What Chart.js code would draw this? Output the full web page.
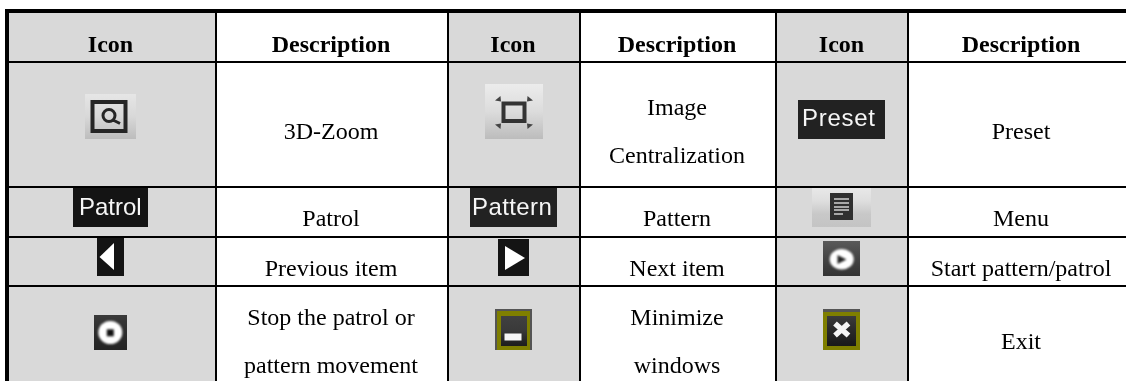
<!DOCTYPE html>
<html>
<head>
<meta charset="utf-8">
<script src="https://cdn.jsdelivr.net/npm/chart.js@4"></script>
<style>
    body{margin:0;background:#fff;}
    canvas{display:block;}
</style>
</head>
<body>
<canvas id="dataChart" width="1126" height="381"></canvas>
<script>
// table rules, in picture pixels
const columnRules = [7,215.5,447.5,580,776,908];
const rowRules = [11,62,187,237,286];
const ruleColumnWidths = [4,2,2,2,2,2];
const ruleRowWidths = [4,2,2,2,2];
const shadedColumns = [[7,215.5],[447.5,580],[776,908]];

const columnCenters = [110.5,331,513,677,841.5,1021];
const headerLabels = ["Icon","Description","Icon","Description","Icon","Description"];
const headerBaseline = 52;

const descriptionColumns = [1,3,5,1,3,5,1,3,5,1,3,5];
const descriptionLines = [
    ["3D-Zoom"],["Image","Centralization"],["Preset"],
    ["Patrol"],["Pattern"],["Menu"],
    ["Previous item"],["Next item"],["Start pattern/patrol"],
    ["Stop the patrol or","pattern movement"],["Minimize","windows"],["Exit"]
];
const descriptionBaselines = [
    [139],[115,163],[139],
    [226],[226],[226],
    [276],[276],[276],
    [325,373],[325,373],[349]
];

const iconNames = ["zoom","center","preset","patrol","pattern","menu","prev","next","start","stop","minimize","exit"];
const iconX = [110.5,514,841.5,110.5,513.5,841.5,110.5,513.5,841.5,110.5,513.5,841.5];
const iconY = [116.5,111.5,119.5,207.5,207.5,207.5,257,257.5,258.5,332.5,329.5,329.5];

function makeIcon(w,h,paint){
    let c = document.createElement("canvas");
    c.width = w;
    c.height = h;
    let ctx = c.getContext("2d");
    paint(ctx,w,h);
    return c;
}

function vGradient(ctx,h,stops){
    let g = ctx.createLinearGradient(0,0,0,h);
    stops.forEach((s,i)=>g.addColorStop(i/(stops.length-1),s));
    return g;
}

function labelIcon(bg,text,size,tx,base,spacing){
    return (ctx,w,h)=>{
        ctx.fillStyle = bg;
        ctx.fillRect(0,0,w,h);
        ctx.fillStyle = "#f6f6f6";
        ctx.font = size+"px 'Liberation Sans'";
        ctx.letterSpacing = spacing+"px";
        ctx.fillText(text,tx,base);
    };
}

function ring(ctx,x,y,rx,ry){
    ctx.filter = "blur(0.8px)";
    ctx.fillStyle = "#fff";
    ctx.beginPath();
    ctx.ellipse(x,y,rx,ry,0,0,Math.PI*2);
    ctx.fill();
}

const iconPainters = {
    zoom(ctx,w,h){
        ctx.fillStyle = vGradient(ctx,h,["#e6e6e6","#d8d8d8","#bdbdbd"]);
        ctx.fillRect(0,0,w,h);
        ctx.filter = "blur(0.7px)";
        ctx.strokeStyle = "#262626";
        ctx.lineWidth = 4;
        ctx.strokeRect(7.5,8,33,29);
        ctx.lineWidth = 3;
        ctx.beginPath();
        ctx.arc(24,21.5,6,0,Math.PI*2);
        ctx.moveTo(28,26);
        ctx.lineTo(35,29.5);
        ctx.stroke();
    },
    center(ctx,w,h){
        ctx.fillStyle = vGradient(ctx,h,["#ececec","#dcdcdc","#bcbcbc"]);
        ctx.fillRect(0,0,w,h);
        ctx.filter = "blur(0.7px)";
        ctx.strokeStyle = "#333";
        ctx.lineWidth = 4;
        ctx.strokeRect(18.5,19.5,21,17.5);
        ctx.fillStyle = "#444";
        [[1,1],[-1,1],[1,-1],[-1,-1]].forEach(p=>{
            ctx.beginPath();
            ctx.moveTo(29-19*p[0],28.5-12*p[1]);
            ctx.lineTo(29-13.5*p[0],28.5-16.5*p[1]);
            ctx.lineTo(29-13*p[0],28.5-11*p[1]);
            ctx.fill();
        });
    },
    preset: labelIcon("#222222","Preset",24,4,26,0.7),
    patrol: labelIcon("#141414","Patrol",24,6,27,0),
    pattern: labelIcon("#222222","Pattern",24,2,27,0.4),
    menu(ctx,w,h){
        ctx.fillStyle = vGradient(ctx,h,["#e8e8e8","#dedede","#c8c8c8","#c4c4c4"]);
        ctx.fillRect(0,0,w,h);
        ctx.filter = "blur(0.5px)";
        ctx.fillStyle = "#303030";
        ctx.fillRect(18,5,23,27);
        ctx.fillStyle = "#a8a8a8";
        [10,14,18,21].forEach(y=>ctx.fillRect(22,y,15,2));
        ctx.fillRect(22,25,9,2);
    },
    prev(ctx,w,h){
        ctx.fillStyle = "#141414";
        ctx.fillRect(0,0,w,h);
        ctx.filter = "blur(0.5px)";
        ctx.fillStyle = "#fff";
        ctx.beginPath();
        ctx.moveTo(2.5,19);
        ctx.lineTo(17,5);
        ctx.lineTo(17,32);
        ctx.fill();
    },
    next(ctx,w,h){
        ctx.fillStyle = "#141414";
        ctx.fillRect(0,0,w,h);
        ctx.filter = "blur(0.5px)";
        ctx.fillStyle = "#fff";
        ctx.beginPath();
        ctx.moveTo(7,7);
        ctx.lineTo(27,19);
        ctx.lineTo(7,31);
        ctx.fill();
    },
    start(ctx,w,h){
        ctx.fillStyle = vGradient(ctx,h,["#5a5a5a","#444","#333"]);
        ctx.fillRect(0,0,w,h);
        ring(ctx,18.7,18.3,12,10.3);
        ctx.fillStyle = "#222";
        ctx.beginPath();
        ctx.moveTo(14.5,14);
        ctx.lineTo(23.5,18.5);
        ctx.lineTo(14.5,23);
        ctx.fill();
    },
    stop(ctx,w,h){
        ctx.fillStyle = vGradient(ctx,h,["#3a3a3a","#2c2c2c","#242424"]);
        ctx.fillRect(0,0,w,h);
        ring(ctx,16.3,17.5,12,11.5);
        ctx.fillStyle = "#111";
        ctx.fillRect(12.8,14.3,7,7);
    },
    minimize(ctx,w,h){
        ctx.fillStyle = "#555";
        ctx.fillRect(0,0,w,h);
        ctx.fillStyle = "#7f7f00";
        ctx.fillRect(2,2,w-4,h-2);
        ctx.fillStyle = vGradient(ctx,h,["#444","#3a3a3a","#151515"]);
        ctx.fillRect(6,7,26,30);
        ctx.filter = "blur(0.4px)";
        ctx.fillStyle = "#f5f5f5";
        ctx.fillRect(9.5,24.5,17,7);
    },
    exit(ctx,w,h){
        ctx.fillStyle = "#7f7f00";
        ctx.fillRect(0,0,w,h);
        ctx.fillStyle = "#555";
        ctx.fillRect(0,0,w,3);
        ctx.fillStyle = vGradient(ctx,h,["#444","#2a2a2a","#151515"]);
        ctx.fillRect(4,7,29,30);
        ctx.filter = "blur(0.6px)";
        ctx.strokeStyle = "#f5f5f5";
        ctx.lineWidth = 5.5;
        ctx.beginPath();
        ctx.moveTo(12,14.5);
        ctx.lineTo(25.5,26.5);
        ctx.moveTo(25.5,14.5);
        ctx.lineTo(12,26.5);
        ctx.stroke();
    }
};
const iconSizes = {zoom:[51,45],center:[58,55],preset:[87,39],patrol:[75,39],pattern:[87,39],menu:[59,39],
    prev:[27,38],next:[31,37],start:[37,35],stop:[33,35],minimize:[37,41],exit:[37,41]};

const iconCanvases = iconNames.map(n=>makeIcon(iconSizes[n][0],iconSizes[n][1],iconPainters[n]));

const tableText = {
    id:"tableText",
    afterDatasetsDraw(chart){
        let ctx = chart.ctx;
        let x = chart.scales.x;
        let y = chart.scales.y;
        ctx.save();
        ctx.fillStyle = "#000";
        ctx.textAlign = "center";
        ctx.textBaseline = "alphabetic";
        ctx.font = "bold 24px 'Liberation Serif'";
        headerLabels.forEach((label,i)=>{
            ctx.fillText(label,x.getPixelForValue(columnCenters[i]),y.getPixelForValue(headerBaseline));
        });
        ctx.font = "24px 'Liberation Serif'";
        descriptionLines.forEach((lines,i)=>{
            lines.forEach((line,j)=>{
                ctx.fillText(line,x.getPixelForValue(columnCenters[descriptionColumns[i]]),y.getPixelForValue(descriptionBaselines[i][j]));
            });
        });
        ctx.restore();
    }
};

let shadeSets = shadedColumns.map(col=>({
    type:"line",
    data:[{x:col[0],y:11},{x:col[1],y:11}],
    borderWidth:0,
    pointRadius:0,
    backgroundColor:"#d9d9d9",
    fill:{value:381},
    order:3
}));

let iconSet = {
    type:"scatter",
    data:iconX.map((v,i)=>({x:v,y:iconY[i]})),
    pointStyle:ctx=>iconCanvases[ctx.dataIndex],
    pointRadius:10,
    order:1
};

let ctx = document.getElementById("dataChart").getContext("2d");
let chart = new Chart(ctx,{
    type:"line",
    data:{datasets:[iconSet,...shadeSets]},
    options:{
        responsive:false,
        animation:false,
        layout:{autoPadding:false,padding:{left:5,top:9,right:0,bottom:0}},
        plugins:{legend:{display:false},tooltip:{enabled:false}},
        scales:{
            x:{
                type:"linear",
                min:5,
                max:1126,
                afterBuildTicks:s=>{s.ticks = columnRules.map(v=>({value:v}));},
                ticks:{display:false},
                border:{display:false},
                grid:{z:1,color:"#000",drawTicks:false,lineWidth:c=>ruleColumnWidths[c.index]}
            },
            y:{
                type:"linear",
                reverse:true,
                min:9,
                max:381,
                afterBuildTicks:s=>{s.ticks = rowRules.map(v=>({value:v}));},
                ticks:{display:false},
                border:{display:false},
                grid:{z:1,color:"#000",drawTicks:false,lineWidth:c=>ruleRowWidths[c.index]}
            }
        }
    },
    plugins:[tableText]
});
</script>
</body>
</html>
